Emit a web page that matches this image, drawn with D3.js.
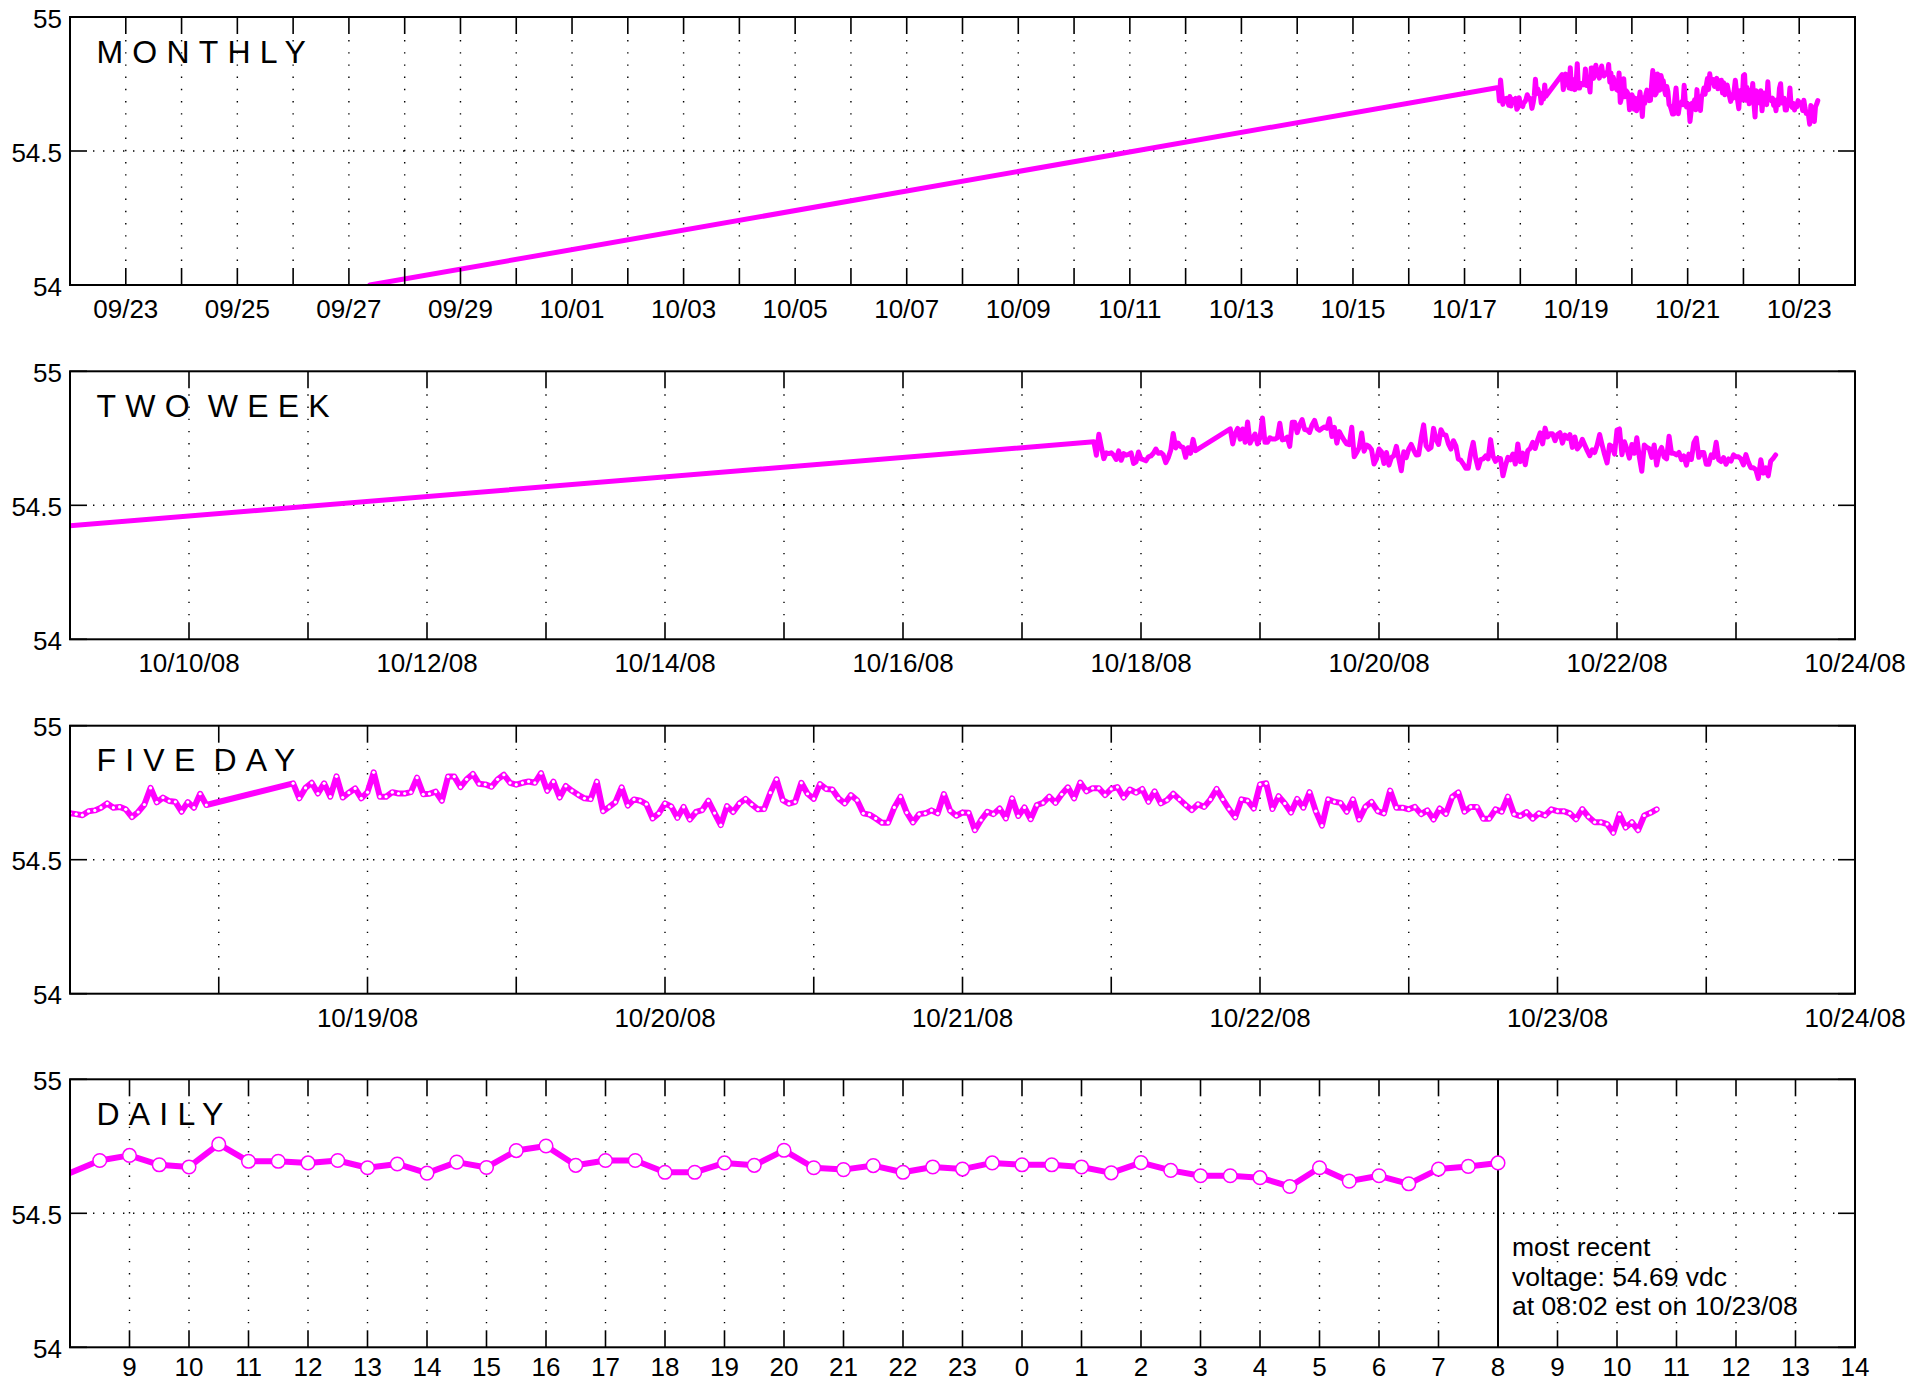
<!DOCTYPE html>
<html><head><meta charset="utf-8">
<script src="https://cdn.jsdelivr.net/npm/d3@7"></script>
<style>
body{margin:0;background:#fff}
svg{display:block}
text{font-family:"Liberation Sans",Arial,Helvetica,sans-serif;fill:#000}
</style>
</head><body>
<svg id="chart" width="1929" height="1382"></svg>
<script>
// ---------------- data ----------------
const earlyTimes  = ["2008-09-27T09:00"];
const earlyValues = [54.00];

// 30-minute readings, 10/17 14:30 .. 10/18 11:00
const segAStart  = "2008-10-17T14:30";
const segAValues = [
  54.737, 54.687, 54.765, 54.718, 54.674, 54.696, 54.693, 54.696, 54.687, 54.671,
  54.703, 54.668, 54.693, 54.687, 54.690, 54.696, 54.656, 54.662, 54.699,
  54.673, 54.670, 54.666, 54.681, 54.684, 54.694, 54.710, 54.694, 54.697, 54.688,
  54.659, 54.678, 54.706, 54.768, 54.714, 54.732, 54.719, 54.716, 54.679, 54.715,
  54.694, 54.746, 54.704
];

// 30-minute readings, 10/18 18:00 .. 10/23 08:00
const segBStart  = "2008-10-18T18:00";
const segBValues = [
  54.785, 54.729, 54.768, 54.787, 54.747, 54.785, 54.735, 54.811, 54.732, 54.750, 54.766, 54.729,
  54.752, 54.826, 54.735, 54.735, 54.752, 54.747, 54.747, 54.752, 54.806, 54.744, 54.746, 54.754,
  54.720, 54.810, 54.810, 54.771, 54.800, 54.820, 54.783, 54.781, 54.772, 54.800, 54.817, 54.787,
  54.780, 54.787, 54.792, 54.787, 54.823, 54.757, 54.791, 54.732, 54.775, 54.757, 54.742, 54.729,
  54.726, 54.791, 54.681, 54.697, 54.715, 54.770, 54.702, 54.725, 54.720, 54.707, 54.654, 54.673,
  54.710, 54.699, 54.656, 54.697, 54.650, 54.678, 54.685, 54.720, 54.674, 54.629, 54.700, 54.678,
  54.710, 54.727, 54.706, 54.688, 54.689, 54.750, 54.800, 54.722, 54.709, 54.716, 54.787, 54.746,
  54.727, 54.782, 54.764, 54.762, 54.729, 54.710, 54.741, 54.722, 54.673, 54.668, 54.654, 54.638,
  54.638, 54.695, 54.735, 54.676, 54.639, 54.670, 54.673, 54.684, 54.673, 54.745, 54.683, 54.664,
  54.676, 54.675, 54.610, 54.648, 54.679, 54.670, 54.691, 54.654, 54.729, 54.663, 54.695, 54.651,
  54.704, 54.712, 54.735, 54.712, 54.744, 54.770, 54.729, 54.788, 54.755, 54.767, 54.767, 54.741,
  54.764, 54.771, 54.732, 54.762, 54.750, 54.764, 54.716, 54.755, 54.710, 54.722, 54.746, 54.725,
  54.704, 54.685, 54.707, 54.697, 54.725, 54.764, 54.725, 54.689, 54.658, 54.725, 54.720, 54.691,
  54.781, 54.785, 54.689, 54.737, 54.710, 54.676, 54.727, 54.694, 54.752, 54.681, 54.627, 54.725,
  54.716, 54.712, 54.679, 54.725, 54.650, 54.697, 54.716, 54.681, 54.673, 54.758, 54.694, 54.694,
  54.688, 54.697, 54.670, 54.684, 54.650, 54.691, 54.671, 54.734, 54.751, 54.679, 54.697, 54.697,
  54.653, 54.653, 54.688, 54.679, 54.735, 54.670, 54.663, 54.678, 54.653, 54.673, 54.665, 54.688,
  54.681, 54.681, 54.673, 54.651, 54.689, 54.660, 54.640, 54.640, 54.633, 54.600, 54.670, 54.620,
  54.640, 54.610, 54.665, 54.675, 54.688
];

const panelTitles   = ["MONTHLY", "TWO WEEK", "FIVE DAY", "DAILY"];
const panelStarts   = ["2008-09-22T00:00", "2008-10-09T00:00", "2008-10-18T00:00", "2008-10-22T08:00"];
const panelEnds     = ["2008-10-24T00:00", "2008-10-24T00:00", "2008-10-24T00:00", "2008-10-23T14:00"];
const yTicks        = [54, 54.5, 55];
const yTickLabels   = ["54", "54.5", "55"];
const mostRecentTime = "2008-10-23T08:00";
const recentLines   = ["most recent", "voltage: 54.69 vdc", "at 08:02 est on 10/23/08"];

// ---------------- build ----------------
const parse = d3.timeParse("%Y-%m-%dT%H:%M");
function series(start, values){
  const t0 = parse(start);
  return values.map((v,i)=>({t: d3.timeMinute.offset(t0, 30*i), v}));
}
const data = earlyTimes.map((s,i)=>({t: parse(s), v: earlyValues[i]}))
  .concat(series(segAStart, segAValues), series(segBStart, segBValues));

const MAG = "#ff00ff";
const L = 70, R = 1855, PH = 268;
const tops = [17, 371.3, 725.7, 1079.3];
const TICK = 17;

const svg = d3.select("#chart");
svg.append("rect").attr("width",1929).attr("height",1382).attr("fill","#fff");

const defs = svg.append("defs");

const tickCfg = [
  {ticks: (a,b)=>d3.timeDay.range(a, +b+1), label: d=> d.getDate()%2===1, fmt: d3.timeFormat("%m/%d")},
  {ticks: (a,b)=>d3.timeDay.range(a, +b+1), label: d=> d.getDate()%2===0, fmt: d3.timeFormat("%m/%d/%y")},
  {ticks: (a,b)=>d3.timeHour.every(12).range(a, +b+1), label: d=> d.getHours()===0, fmt: d3.timeFormat("%m/%d/%y")},
  {ticks: (a,b)=>d3.timeHour.range(a, +b+1), label: d=> true, fmt: d=> String(d.getHours())}
];

panelTitles.forEach((title, p)=>{
  const top = tops[p], bot = top + PH;
  const d0 = parse(panelStarts[p]), d1 = parse(panelEnds[p]);
  const x = d3.scaleTime().domain([d0, d1]).range([L, R]);
  const y = d3.scaleLinear().domain([54, 55]).range([bot, top]);
  const g = svg.append("g");

  defs.append("clipPath").attr("id","clip"+p)
    .append("rect").attr("x",L).attr("y",top).attr("width",R-L).attr("height",PH);

  const ticks = tickCfg[p].ticks(d0, d1);

  // vertical dotted grid
  g.selectAll(".vg").data(ticks.filter(d=> +d > +d0 && +d < +d1)).enter().append("line")
    .attr("x1", d=>x(d)).attr("x2", d=>x(d))
    .attr("y1", top + TICK + 6).attr("y2", bot - TICK)
    .attr("stroke","#000").attr("stroke-width",1.4)
    .attr("stroke-dasharray","1.4,10.8");
  // horizontal dotted grid at 54.5
  g.selectAll(".hg").data(yTicks.filter(v=> v>54 && v<55)).enter().append("line")
    .attr("x1", L + TICK + 6).attr("x2", R - TICK)
    .attr("y1", d=>y(d)).attr("y2", d=>y(d))
    .attr("stroke","#000").attr("stroke-width",1.4)
    .attr("stroke-dasharray","1.4,8.6");

  // most recent marker (daily)
  if (p === 3) {
    const tr = parse(mostRecentTime);
    g.append("line").attr("x1", x(tr)).attr("x2", x(tr))
      .attr("y1", top).attr("y2", bot).attr("stroke","#000").attr("stroke-width",2);
    recentLines.forEach((s,i)=>{
      g.append("text").attr("x", x(tr) + 14).attr("y", 1256 + i*29.7)
        .attr("font-size", 26.5).text(s);
    });
  }

  // data line
  const dg = g.append("g").attr("clip-path", `url(#clip${p})`);
  const line = d3.line().x(d=>x(d.t)).y(d=>y(d.v));
  dg.append("path").datum(data).attr("d", line)
    .attr("fill","none").attr("stroke",MAG)
    .attr("stroke-width", p>=2 ? 6 : 5)
    .attr("stroke-linejoin","round").attr("stroke-linecap","round");

  const inDom = data.filter(d=> +d.t >= +d0 && +d.t <= +d1);
  if (p === 2) {
    dg.selectAll(".dot").data(inDom).enter().append("circle")
      .attr("cx", d=>x(d.t)).attr("cy", d=>y(d.v)).attr("r", 1.6).attr("fill","#fff");
  }
  if (p === 3) {
    g.selectAll(".mk").data(data.filter(d=> +d.t > +d0 && +d.t <= +d1)).enter().append("circle")
      .attr("cx", d=>x(d.t)).attr("cy", d=>y(d.v)).attr("r", 6.8)
      .attr("fill","#fff").attr("stroke",MAG).attr("stroke-width",1.5);
  }

  // frame
  g.append("rect").attr("x",L).attr("y",top).attr("width",R-L).attr("height",PH)
    .attr("fill","none").attr("stroke","#000").attr("stroke-width",2);

  // x ticks (inward, top and bottom)
  ticks.forEach(d=>{
    const xx = x(d);
    g.append("line").attr("x1",xx).attr("x2",xx).attr("y1",top).attr("y2",top+TICK)
      .attr("stroke","#000").attr("stroke-width",1.6);
    g.append("line").attr("x1",xx).attr("x2",xx).attr("y1",bot).attr("y2",bot-TICK)
      .attr("stroke","#000").attr("stroke-width",1.6);
  });
  // x labels
  g.selectAll(".xl").data(ticks.filter(d=> +d > +d0 && tickCfg[p].label(d))).enter().append("text")
    .attr("x", d=>x(d)).attr("y", p === 3 ? bot + 29 : bot + 33).attr("text-anchor","middle")
    .attr("font-size", 26).text(d=>tickCfg[p].fmt(d));

  // y ticks & labels
  yTicks.forEach((v,i)=>{
    const yy = y(v);
    g.append("line").attr("x1",L).attr("x2",L+TICK).attr("y1",yy).attr("y2",yy)
      .attr("stroke","#000").attr("stroke-width",1.6);
    g.append("line").attr("x1",R).attr("x2",R-TICK).attr("y1",yy).attr("y2",yy)
      .attr("stroke","#000").attr("stroke-width",1.6);
    g.append("text").attr("x", 62).attr("y", yy + 10.5).attr("text-anchor","end")
      .attr("font-size", 26).text(yTickLabels[i]);
  });

  // title
  g.append("text").attr("x", 96.5).attr("y", top + 45.5)
    .attr("font-size", 32).attr("letter-spacing", 9.2).attr("word-spacing", -9).text(title);
});
</script>
</body></html>
